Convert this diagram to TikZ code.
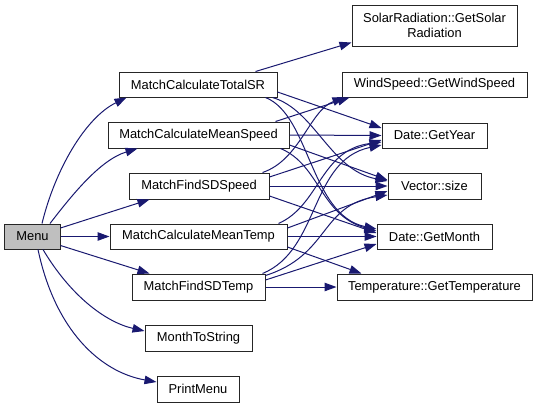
\documentclass[tikz,border=0pt]{standalone}
\usepackage{fontspec}
\setmainfont{Liberation Sans}
\usetikzlibrary{arrows.meta,calc}
\definecolor{edgeblue}{HTML}{191970}
\definecolor{menugray}{HTML}{BFBFBF}
\newcommand{\nodefont}{\fontsize{12.9bp}{15.5bp}\selectfont}
\begin{document}
\begin{tikzpicture}[x=1bp,y=-1bp,
  box/.style={draw=black!85, line width=1bp, fill=white, inner sep=0pt, font=\nodefont, align=center},
  e/.style={draw=edgeblue, line width=1bp, -{Triangle[length=12bp,width=8.5bp]}}]
\useasboundingbox (0,0) rectangle (537,407);
% left / middle nodes
\node[box, fill=menugray, minimum width=55bp, minimum height=25bp] (M) at (32.5,236.5) {Menu};
\node[box, minimum width=158bp, minimum height=25bp] (TS) at (198,84.5) {MatchCalculateTotalSR};
\node[box, minimum width=181bp, minimum height=26bp] (MS) at (198.5,135) {MatchCalculateMeanSpeed};
\node[box, minimum width=140bp, minimum height=26bp] (SS) at (199,186) {MatchFindSDSpeed};
\node[box, minimum width=177bp, minimum height=25bp] (MT) at (198.5,236.5) {MatchCalculateMeanTemp};
\node[box, minimum width=133bp, minimum height=26bp] (ST) at (198.5,287) {MatchFindSDTemp};
\node[box, minimum width=107bp, minimum height=26bp] (MTS) at (198.5,338) {MonthToString};
\node[box, minimum width=82bp, minimum height=26bp] (PM) at (198,389) {PrintMenu};
% right nodes
\node[box, minimum width=165bp, minimum height=41bp] (SR) at (434.5,25.5) {SolarRadiation::GetSolar\\Radiation};
\node[box, minimum width=185bp, minimum height=25bp] (WS) at (434.5,84.5) {WindSpeed::GetWindSpeed};
\node[box, minimum width=105bp, minimum height=25bp] (GY) at (434.5,135.5) {Date::GetYear};
\node[box, minimum width=93bp, minimum height=26bp] (VS) at (434.5,186) {Vector::size};
\node[box, minimum width=115bp, minimum height=25bp] (GM) at (434.5,236.5) {Date::GetMonth};
\node[box, minimum width=195bp, minimum height=26bp] (TT) at (434.5,287) {Temperature::GetTemperature};
% Menu edges
\draw[e] ($(M.north)+(9.5,0)$) .. controls (55,170) and (85,118) .. ($(TS.south west)+(8,0)$);
\draw[e] ($(M.north)+(17.5,0)$) .. controls (72,195) and (100,160) .. ($(MS.south west)+(30,0)$);
\draw[e] ($(M.east)+(0,-8.5)$) -- ($(SS.south west)+(21,0)$);
\draw[e] (M.east) -- (MT.west);
\draw[e] ($(M.east)+(0,9)$) -- ($(ST.north west)+(18,0)$);
\draw[e] ($(M.south)+(10.5,0)$) .. controls (70,295) and (105,322) .. ($(MTS.west)+(0,-7)$);
\draw[e] ($(M.south)+(5.5,0)$) .. controls (55,330) and (100,372) .. ($(PM.west)+(0,-7)$);
% TotalSR
\draw[e] ($(TS.north east)+(-22,0)$) -- ($(SR.south west)+(0,-4)$);
\draw[e] ($(TS.east)+(0,7.5)$) -- ($(GY.west)+(0,-7.5)$);
\draw[e] ($(TS.south east)+(-5,0)$) .. controls (315,110) and (330,170) .. ($(VS.west)+(0,-5)$);
\draw[e] ($(TS.south east)+(-12,0)$) .. controls (310,115) and (310,215) .. ($(GM.west)+(0,-7.5)$);
% MeanSpeed
\draw[e] ($(MS.north east)+(-14,0)$) -- ($(WS.south west)+(8,0)$);
\draw[e] (MS.east) -- (GY.west);
\draw[e] ($(MS.east)+(0,10)$) -- ($(VS.west)+(0,-6)$);
\draw[e] ($(MS.south east)+(-9,0)$) .. controls (320,165) and (320,215) .. ($(GM.west)+(0,-5.5)$);
% SDSpeed
\draw[e] ($(SS.north east)+(-7,0)$) .. controls (300,160) and (310,110) .. ($(WS.south west)+(3,0)$);
\draw[e] ($(SS.east)+(0,-9)$) -- ($(GY.west)+(0,4.5)$);
\draw[e] (SS.east) -- (VS.west);
\draw[e] ($(SS.east)+(0,10)$) -- ($(GM.west)+(0,-3.5)$);
% MeanTemp
\draw[e] ($(MT.north east)+(-9,0)$) .. controls (320,205) and (320,150) .. ($(GY.west)+(0,6.5)$);
\draw[e] ($(MT.east)+(0,-8.5)$) -- ($(VS.west)+(0,5)$);
\draw[e] (MT.east) -- (GM.west);
\draw[e] ($(MT.east)+(0,10.5)$) -- ($(TT.north west)+(25,0)$);
% SDTemp
\draw[e] ($(ST.north east)+(-3,0)$) .. controls (320,250) and (310,160) .. ($(GY.west)+(0,9.5)$);
\draw[e] ($(ST.north east)+(0,2)$) .. controls (330,255) and (320,205) .. ($(VS.west)+(0,9)$);
\draw[e] ($(ST.east)+(0,-7)$) -- ($(GM.west)+(0,7.5)$);
\draw[e] (ST.east) -- (TT.west);
\end{tikzpicture}
\end{document}
